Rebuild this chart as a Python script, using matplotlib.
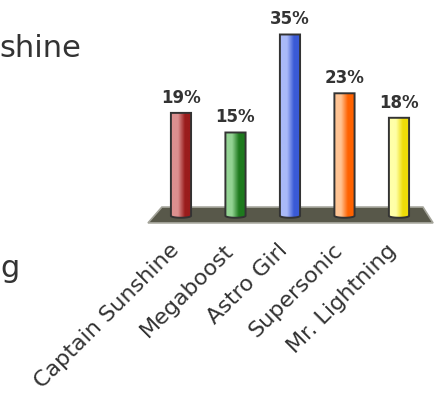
import numpy as np
import matplotlib
matplotlib.use("Agg")
import matplotlib.pyplot as plt
from matplotlib.patches import Polygon
from matplotlib.colors import LinearSegmentedColormap

# data
categories = ["Captain Sunshine", "Megaboost", "Astro Girl", "Supersonic", "Mr. Lightning"]
values = [19, 15, 35, 23, 18]
light_colors = ["#dc9090", "#94d494", "#aabaf8", "#ffc494", "#ffffa8"]
dark_colors = ["#9a1c1c", "#1e7a1e", "#3a5ad6", "#ff6200", "#eedc08"]

fig = plt.figure(figsize=(4.36, 3.95), dpi=100)
ax = fig.add_axes([0.3526, 0.4289, 0.625, 0.521])

x = np.arange(len(categories))
width = 0.37
depth = 2.0   # how far the cylinders sink into the floor
cap = 0.8     # height of the rounded bottom

# floor (drawn in axes coords)
floor = Polygon([[0.030, 0.090], [0.988, 0.090], [1.025, 0.013], [-0.021, 0.013]],
                closed=True, transform=ax.transAxes, facecolor="#58584a",
                edgecolor="#a4a49a", linewidth=1.2, clip_on=False, zorder=1)
ax.add_patch(floor)

bars = ax.bar(x, np.array(values) + depth, width=width, bottom=-depth,
              color="none", edgecolor="none", zorder=2)

t = np.linspace(0, np.pi, 30)
for bar, lc, dc, v in zip(bars, light_colors, dark_colors, values):
    x0, y0 = bar.get_x(), bar.get_y()
    w, h = bar.get_width(), bar.get_height()
    xc = x0 + w / 2
    arc = np.column_stack([xc + w / 2 * np.cos(t), y0 - cap / 2 * np.sin(t)])
    pts = np.vstack([[[x0, y0 + h], [x0 + w, y0 + h]], arc])
    shape = Polygon(pts, closed=True, facecolor="none", edgecolor="#333333",
                    linewidth=1.4, zorder=4)
    ax.add_patch(shape)
    cmap = LinearSegmentedColormap.from_list("g", [lc, lc, dc, dc], N=64)
    grad = np.linspace(0, 1, 64).reshape(1, -1)
    im = ax.imshow(grad, cmap=cmap, extent=[x0, x0 + w, y0 - cap, y0 + h],
                   aspect="auto", zorder=3, interpolation="bicubic")
    im.set_clip_path(shape)
    ax.annotate(f"{v}%", (xc, y0 + h), xytext=(0, 11), textcoords="offset points",
                ha="center", va="center", fontsize=12, fontweight="bold",
                color="#333333", annotation_clip=False)

# category labels, rotated under each cylinder
for xi, name in zip(x, categories):
    ax.text(xi - 0.1, -0.105, name, transform=ax.get_xaxis_transform(),
            fontsize=16, color="#333333", rotation=45, ha="right", va="center",
            rotation_mode="anchor")

ax.set_xlim(-0.5, len(categories) - 0.5)
ax.set_ylim(-4, 38)
ax.set_xticks([])
ax.set_yticks([])
for s in ax.spines.values():
    s.set_visible(False)
ax.patch.set_visible(False)

# partial texts at left edge
fig.text(-0.002, 0.856, "shine", fontsize=22, color="#333333", va="baseline")
fig.text(0.0, 0.299, "g", fontsize=22, color="#333333", va="baseline")

fig.savefig("out.png", dpi=100)
